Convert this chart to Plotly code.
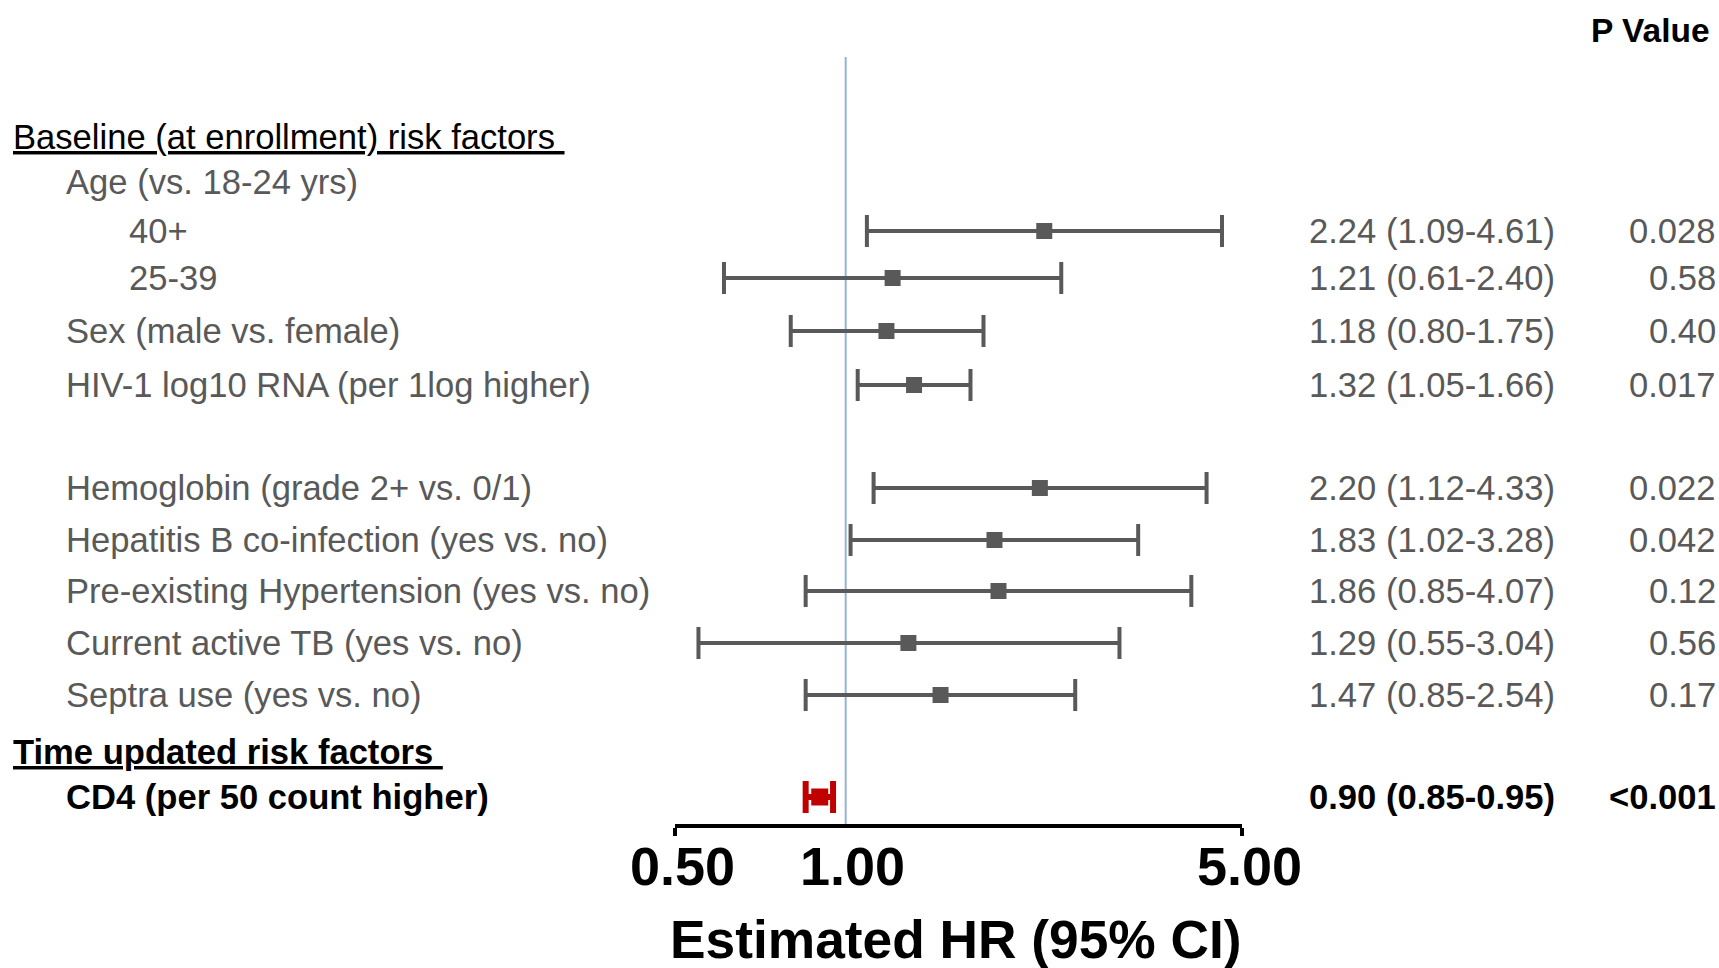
import math
import plotly.graph_objects as go

# ---------------- data ----------------
factor_labels = [
    "40+",
    "25-39",
    "Sex (male vs. female)",
    "HIV-1 log10 RNA (per 1log higher)",
    "Hemoglobin (grade 2+ vs. 0/1)",
    "Hepatitis B co-infection (yes vs. no)",
    "Pre-existing Hypertension (yes vs. no)",
    "Current active TB (yes vs. no)",
    "Septra use (yes vs. no)",
    "CD4 (per 50 count higher)",
]
hr = [2.24, 1.21, 1.18, 1.32, 2.20, 1.83, 1.86, 1.29, 1.47, 0.90]
ci_low = [1.09, 0.61, 0.80, 1.05, 1.12, 1.02, 0.85, 0.55, 0.85, 0.85]
ci_high = [4.61, 2.40, 1.75, 1.66, 4.33, 3.28, 4.07, 3.04, 2.54, 0.95]
p_values = ["0.028", "0.58", "0.40", "0.017", "0.022", "0.042", "0.12", "0.56", "0.17", "<0.001"]

header_baseline = "Baseline (at enrollment) risk factors"
header_age = "Age (vs. 18-24 yrs)"
header_time = "Time updated risk factors"
x_ticks = [0.5, 1.0, 5.0]
x_tick_text = ["0.50", "1.00", "5.00"]
x_title = "Estimated HR (95% CI)"
p_header = "P Value"

# ---------------- layout settings ----------------
W, H = 1719, 968
row_y = [231, 278, 331, 385, 488, 540, 591, 643, 695, 797]  # pixel rows from top
label_indent = [127, 127, 64, 64, 64, 64, 64, 64, 64, 64]
y_baseline, y_age, y_time = 137, 182, 752
axis_y = 826
ax_x0, ax_x1 = 675, 1242
GRAY = "#595959"
RED = "#C00000"
FONT = "Arial, 'Liberation Sans', sans-serif"
FS = 34.6

fig = go.Figure()

n_base = len(hr) - 1
fig.add_trace(go.Scatter(
    x=hr[:n_base], y=row_y[:n_base], mode="markers",
    marker=dict(symbol="square", size=16, color=GRAY),
    error_x=dict(type="data", symmetric=False,
                 array=[h - m for h, m in zip(ci_high[:n_base], hr[:n_base])],
                 arrayminus=[m - l for m, l in zip(hr[:n_base], ci_low[:n_base])],
                 thickness=4, width=16, color=GRAY),
    cliponaxis=False, showlegend=False, hoverinfo="skip",
))
fig.add_trace(go.Scatter(
    x=hr[n_base:], y=row_y[n_base:], mode="markers",
    marker=dict(symbol="square", size=17, color=RED),
    error_x=dict(type="data", symmetric=False,
                 array=[h - m for h, m in zip(ci_high[n_base:], hr[n_base:])],
                 arrayminus=[m - l for m, l in zip(hr[n_base:], ci_low[n_base:])],
                 thickness=6, width=16, color=RED),
    cliponaxis=False, showlegend=False, hoverinfo="skip",
))

# reference line at HR = 1
fig.add_shape(type="line", xref="x", yref="y", x0=1, x1=1, y0=57, y1=axis_y,
              line=dict(color="#95B3D7", width=2), layer="below")

ann = []
def add_text(x_px, y, text, anchor="left", size=FS, color=GRAY, bold=False):
    ann.append(dict(x=x_px / W, xref="paper", y=y, yref="y", text=text,
                    xanchor=anchor, yanchor="middle", showarrow=False,
                    font=dict(family=FONT, size=size, color=color,
                              weight="bold" if bold else "normal")))

add_text(11, y_baseline, "<u>" + header_baseline + "\u00a0</u>", color="black")
add_text(64, y_age, header_age)
add_text(11, y_time, "<u>" + header_time + "\u00a0</u>", color="black", bold=True)
add_text(1712, 30, p_header, anchor="right", size=33.5, color="black", bold=True)

for i, lab in enumerate(factor_labels):
    is_cd4 = i == len(factor_labels) - 1
    col = "black" if is_cd4 else GRAY
    add_text(label_indent[i], row_y[i], lab, color=col, bold=is_cd4)
    hr_txt = f"{hr[i]:.2f} ({ci_low[i]:.2f}-{ci_high[i]:.2f})"
    add_text(1557, row_y[i], hr_txt, anchor="right", color=col, bold=is_cd4)
    add_text(1718, row_y[i], p_values[i], anchor="right", color=col, bold=is_cd4)

# tick labels and axis title
for tv, tt in zip(x_ticks, x_tick_text):
    ann.append(dict(x=math.log10(tv), xref="x", y=866, yref="y", text=tt, xshift=7,
                    xanchor="center", yanchor="middle", showarrow=False,
                    font=dict(family=FONT, size=54, color="black", weight="bold")))
ann.append(dict(x=956 / W, xref="paper", y=939, yref="y", text=x_title,
                xanchor="center", yanchor="middle", showarrow=False,
                font=dict(family=FONT, size=53.3, color="black", weight="bold")))

fig.update_layout(
    width=W, height=H, margin=dict(l=0, r=0, t=0, b=0, autoexpand=False),
    paper_bgcolor="white", plot_bgcolor="white",
    annotations=ann,
    xaxis=dict(type="log", range=[math.log10(x_ticks[0]), math.log10(x_ticks[2])],
               domain=[ax_x0 / W, ax_x1 / W], anchor="free",
               position=(H - axis_y) / H, automargin=False,
               showline=True, linecolor="black", linewidth=3.5,
               ticks="outside", ticklen=8, tickwidth=3.5, tickcolor="black",
               tickvals=[x_ticks[0], x_ticks[2]], showticklabels=False,
               showgrid=False, zeroline=False),
    yaxis=dict(range=[H, 0], domain=[0, 1], visible=False, showgrid=False,
               zeroline=False, automargin=False),
)

fig.write_html("out.html")
